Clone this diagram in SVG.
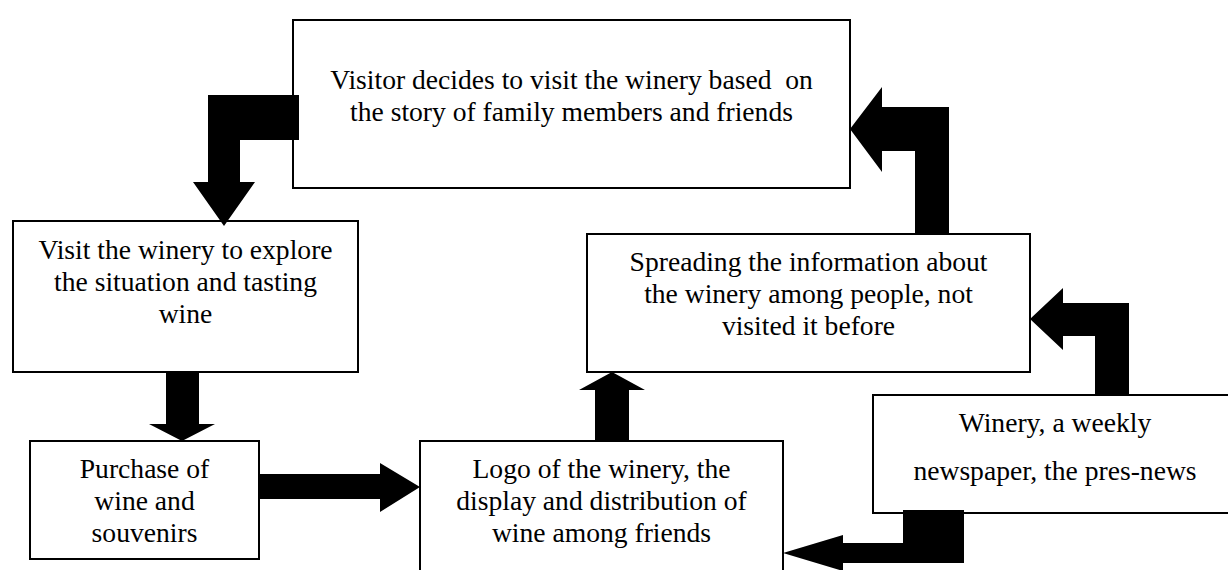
<svg xmlns="http://www.w3.org/2000/svg" width="1228" height="570" viewBox="0 0 1228 570">
<style>
.box{fill:#fff;stroke:#000;stroke-width:2}
.t{font-family:"Liberation Serif","Times New Roman",serif;font-size:27.6px;fill:#000;text-anchor:middle;white-space:pre}
.arr{fill:#000;stroke:none}
</style>
<rect width="1228" height="570" fill="#fff"/>
<g id="node-visitor">
<rect class="box" x="293" y="20" width="557" height="168"/>
<text class="t" x="571.5" y="89">Visitor decides to visit the winery based  on</text>
<text class="t" x="571.5" y="121">the story of family members and friends</text>
</g>
<g id="node-visit">
<rect class="box" x="13" y="221" width="345" height="151"/>
<text class="t" x="185.5" y="259">Visit the winery to explore</text>
<text class="t" x="185.5" y="291">the situation and tasting</text>
<text class="t" x="185.5" y="323">wine</text>
</g>
<g id="node-purchase">
<rect class="box" x="30" y="441" width="229" height="118"/>
<text class="t" x="144.5" y="478">Purchase of</text>
<text class="t" x="144.5" y="510">wine and</text>
<text class="t" x="144.5" y="542">souvenirs</text>
</g>
<g id="node-logo">
<rect class="box" x="420" y="441" width="363" height="140"/>
<text class="t" x="601.5" y="478">Logo of the winery, the</text>
<text class="t" x="601.5" y="510">display and distribution of</text>
<text class="t" x="601.5" y="542">wine among friends</text>
</g>
<g id="node-spreading">
<rect class="box" x="587" y="234" width="443" height="138"/>
<text class="t" x="808.5" y="271">Spreading the information about</text>
<text class="t" x="808.5" y="303">the winery among people, not</text>
<text class="t" x="808.5" y="335">visited it before</text>
</g>
<g id="node-winery">
<rect class="box" x="873" y="395" width="364" height="118"/>
<text class="t" x="1055" y="432">Winery, a weekly</text>
<text class="t" x="1055" y="480">newspaper, the pres-news</text>
</g>
<g id="connectors">
<polygon class="arr" points="299,95 208,95 208,182 193,182 224,226 255,182 240,182 240,140 299,140"/>
<polygon class="arr" points="166,372 199,372 199,424 215,424 182,441 149,424 166,424"/>
<polygon class="arr" points="259,474 380,474 380,463 420,487 380,512 380,499 259,499"/>
<polygon class="arr" points="595,441 595,390 579,390 612,372 645,390 629,390 629,441"/>
<polygon class="arr" points="915,234 915,151 882,151 882,172 850,129 882,87 882,107 949,107 949,234"/>
<polygon class="arr" points="1095,395 1095,336 1063,336 1063,350 1030,319 1063,288 1063,303 1129,303 1129,395"/>
<polygon class="arr" points="964,510 903,510 903,543 843,543 843,535 783,553 843,571 843,563 964,563"/>
</g>
</svg>
